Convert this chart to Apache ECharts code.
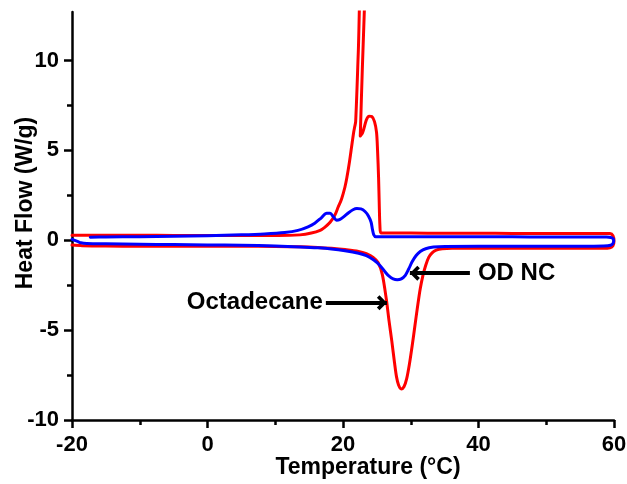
<!DOCTYPE html>
<html>
<head>
<meta charset="utf-8">
<script src="https://cdn.jsdelivr.net/npm/echarts@6/dist/echarts.min.js"></script>
<style>
  html, body { margin: 0; padding: 0; background: #ffffff; }
  #chart { width: 627px; height: 484px; }
</style>
</head>
<body>
<div id="chart"></div>
<script>
// Axis ticks
const xTicks = [-20, 0, 20, 40, 60];
const yTicks = [-10, -5, 0, 5, 10];
const yMinorTicks = [-7.5, -2.5, 2.5, 7.5];

// Octadecane: heating run (melting endotherm, left to right)
const octadecaneHeating = [
  [-20, -0.27], [-18.5, -0.3], [-15, -0.32], [-10, -0.33], [-5, -0.33], [0, -0.33],
  [5, -0.33], [10, -0.34], [13.65, -0.36], [16.3, -0.4], [18.3, -0.45], [20.3, -0.52],
  [22.3, -0.62], [23.45, -0.75], [24.45, -0.95], [25.2, -1.25], [25.8, -1.9], [26.4, -3.3],
  [26.8, -4.5], [27.2, -5.6], [27.6, -6.8], [27.9, -7.6], [28.2, -8.05], [28.6, -8.27],
  [29.0, -8.15], [29.4, -7.7], [29.8, -6.9], [30.2, -5.9], [30.6, -4.8], [31.0, -3.7],
  [31.4, -2.7], [31.8, -1.95], [32.2, -1.4], [32.65, -0.95], [33.15, -0.7], [33.75, -0.55],
  [34.65, -0.47], [36.1, -0.44], [40, -0.44], [45, -0.44], [50, -0.44], [55, -0.45],
  [58.4, -0.45], [59.4, -0.42], [59.85, -0.3]
];

// Octadecane: cooling run (crystallisation exotherm, right to left)
const octadecaneCooling = [
  [60.0, -0.05], [59.85, 0.25], [59.4, 0.37], [58.4, 0.38], [55, 0.38], [50, 0.38],
  [45, 0.38], [40, 0.39], [35, 0.39], [30, 0.4], [27.2, 0.4], [25.6, 0.4],
  [25.45, 0.8], [25.35, 2], [25.25, 3.5], [25.1, 5.0], [24.95, 6.0], [24.65, 6.6],
  [24.25, 6.88], [23.85, 6.9], [23.45, 6.7], [23.15, 6.3], [22.85, 5.95], [22.55, 5.8],
  [22.85, 9.5], [23.5, 16.5], [22.85, 16.5], [22.26, 10.5], [21.87, 6.6], [21.72, 6.3],
  [21.57, 6.0], [21.27, 5.2], [20.97, 4.4], [20.58, 3.5], [20.28, 2.95], [19.79, 2.3],
  [19.29, 1.85], [18.8, 1.4], [18.1, 1.0], [17.3, 0.72], [16.62, 0.55], [15.33, 0.4],
  [13.65, 0.3], [10.4, 0.26], [5, 0.26], [0, 0.27], [-5, 0.27], [-10, 0.28],
  [-15, 0.28], [-20, 0.28]
];

// OD NC: heating run (left to right)
const odncHeating = [
  [-20, 0.05], [-19.1, -0.08], [-18.7, -0.14], [-17.8, -0.18], [-15, -0.2], [-10, -0.22],
  [-5, -0.24], [0, -0.26], [5, -0.28], [10, -0.32], [13.65, -0.37], [16.3, -0.42],
  [18.3, -0.48], [20.3, -0.58], [22.3, -0.72], [23.45, -0.85], [24.55, -1.1], [25.45, -1.4],
  [26.2, -1.75], [26.8, -2.0], [27.4, -2.15], [28.0, -2.2], [28.6, -2.15], [29.2, -1.95],
  [29.7, -1.6], [30.2, -1.2], [30.8, -0.85], [31.4, -0.63], [32.2, -0.47], [33.35, -0.38],
  [35.1, -0.34], [40, -0.33], [45, -0.33], [50, -0.33], [55, -0.33], [58.4, -0.32],
  [59.5, -0.28], [59.9, -0.15]
];

// OD NC: cooling run (right to left)
const odncCooling = [
  [59.95, 0.02], [59.6, 0.15], [58.9, 0.18], [55, 0.18], [50, 0.18], [45, 0.19],
  [40, 0.19], [35, 0.2], [30, 0.2], [26.2, 0.2], [24.85, 0.19], [24.55, 0.3],
  [24.35, 0.6], [24.15, 1.0], [23.75, 1.35], [23.25, 1.6], [22.65, 1.75], [22.05, 1.77],
  [21.47, 1.7], [20.78, 1.52], [20.08, 1.3], [19.49, 1.15], [19.05, 1.12], [18.6, 1.3],
  [18.1, 1.5], [17.6, 1.5], [16.8, 1.25], [15.83, 0.95], [14.84, 0.75], [13.35, 0.55],
  [11.4, 0.43], [8.4, 0.35], [5, 0.3], [0, 0.25], [-5, 0.22], [-10, 0.2],
  [-15, 0.18], [-17.3, 0.17]
];

// Arrow call-outs: label, tail and head in data units
const calloutNames = ['Octadecane', 'OD NC'];
const calloutTails = [[17.47, -3.47], [38.73, -1.83]];
const calloutHeads = [[26.48, -3.47], [29.87, -1.83]];
const calloutGaps = [3, 8];

const FONT = '"Liberation Sans", Arial, sans-serif';
// open chevron head; a zero-area point keeps the tip at the symbol centre
const chevron = 'path://M10,-3.5 L10.001,-3.5 Z M10,10 L20,20 L16.5,23.5 L10,17 L3.5,23.5 L0,20 Z';

const chart = echarts.init(document.getElementById('chart'), null, { renderer: 'canvas' });

const axisLabelStyle = { color: '#000', fontFamily: FONT, fontWeight: 'bold', fontSize: 22 };
const nameStyle = { color: '#000', fontFamily: FONT, fontWeight: 'bold', fontSize: 23 };
const axisStroke = { color: '#000', width: 2.5 };

chart.setOption({
  animation: false,
  backgroundColor: '#ffffff',
  grid: { left: 72, right: 13, top: 12, bottom: 64, containLabel: false, outerBoundsMode: 'none' },
  xAxis: {
    type: 'value',
    min: -20, max: 60, interval: 20,
    name: 'Temperature (°C)',
    nameLocation: 'middle',
    nameGap: 36,
    nameMoveOverlap: false,
    nameTextStyle: Object.assign({ padding: [0, 0, 0, 50] }, nameStyle),
    splitLine: { show: false },
    axisLine: { show: true, onZero: false, lineStyle: axisStroke },
    axisTick: { show: true, inside: false, length: 8, lineStyle: axisStroke },
    minorTick: { show: true, splitNumber: 2, length: 5, lineStyle: axisStroke },
    axisLabel: Object.assign({ margin: 14, formatter: v => xTicks.includes(v) ? String(v) : '' }, axisLabelStyle)
  },
  yAxis: [
    {
      type: 'value',
      min: -10, max: 12.7,
      name: 'Heat Flow (W/g)',
      nameLocation: 'middle',
      nameGap: 35,
      nameMoveOverlap: false,
      nameTextStyle: Object.assign({ padding: [0, 0, 0, 26] }, nameStyle),
      splitLine: { show: false },
      axisLine: { show: true, onZero: false, lineStyle: axisStroke },
      axisTick: { show: true, inside: false, length: 8, customValues: yTicks, lineStyle: axisStroke },
      axisLabel: Object.assign({ margin: 13, customValues: yTicks }, axisLabelStyle)
    },
    {
      type: 'value',
      min: -10, max: 12.7,
      position: 'left',
      splitLine: { show: false },
      axisLine: { show: false, onZero: false },
      axisTick: { show: true, inside: false, length: 5, customValues: yMinorTicks, lineStyle: axisStroke },
      axisLabel: { show: false }
    }
  ],
  series: [
    {
      name: 'Octadecane',
      type: 'line',
      data: octadecaneHeating.concat(octadecaneCooling),
      showSymbol: false,
      symbol: 'none',
      smooth: 0.3,
      clip: true,
      lineStyle: { color: '#ff0000', width: 3, cap: 'round', join: 'round' },
      markLine: {
        silent: true,
        symbol: ['none', chevron],
        symbolSize: [15, 20],
        lineStyle: { color: '#000', width: 4, type: 'solid' },
        label: {
          show: true,
          position: 'start',
          formatter: p => p.name,
          color: '#000', fontFamily: FONT, fontWeight: 'bold', fontSize: 24
        },
        emphasis: { disabled: true },
        data: calloutNames.map((n, i) => [
          { name: n, coord: calloutTails[i], label: { distance: calloutGaps[i] } },
          { coord: calloutHeads[i] }
        ])
      }
    },
    {
      name: 'OD NC',
      type: 'line',
      data: odncHeating.concat(odncCooling),
      showSymbol: false,
      symbol: 'none',
      smooth: 0.3,
      clip: true,
      lineStyle: { color: '#0000ff', width: 3, cap: 'round', join: 'round' }
    }
  ]
});
</script>
</body>
</html>
